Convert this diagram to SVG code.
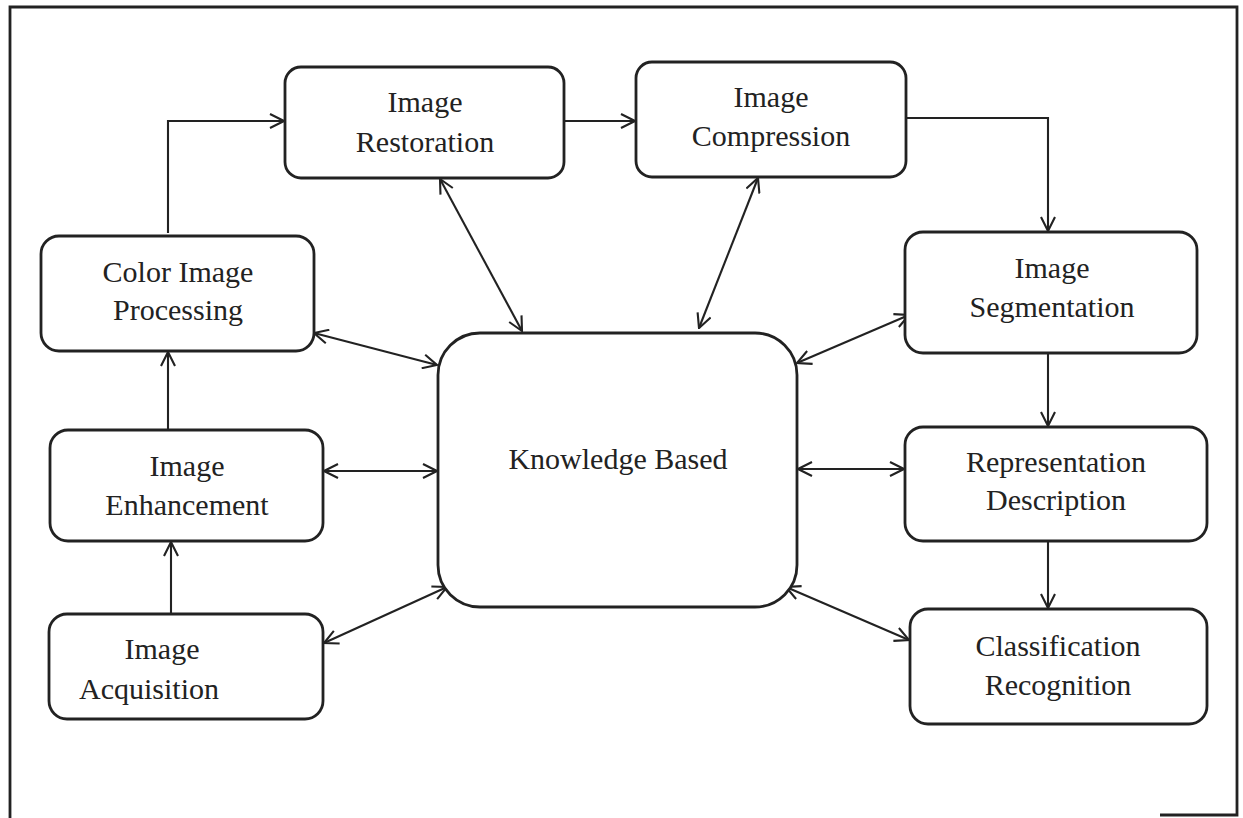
<svg xmlns="http://www.w3.org/2000/svg" width="1243" height="818" viewBox="0 0 1243 818">
<style>
.box{fill:#fff;stroke:#222;stroke-width:2.8}
.frame{fill:none;stroke:#222;stroke-width:2.8}
.c{fill:none;stroke:#222;stroke-width:2.1}
text{font-family:"Liberation Serif","Times New Roman",serif;font-size:30px;fill:#222;text-anchor:middle}
</style>
<defs>
<marker id="ah" markerWidth="16" markerHeight="16" refX="15" refY="8" orient="auto-start-reverse" markerUnits="userSpaceOnUse">
<path d="M1,1 L15,8 L1,15" fill="none" stroke="#222" stroke-width="2.1"/>
</marker>
</defs>
<rect width="1243" height="818" fill="#fff"/>
<g id="frame">
<path class="frame" d="M10,818 L10,7 L1237,7 L1237,815 L1160,815"/>
</g>
<g id="connectors">
<path class="c" d="M168,233 L168,121 L284,121" marker-end="url(#ah)"/>
<path class="c" d="M564,121 L635,121" marker-end="url(#ah)"/>
<path class="c" d="M906,118 L1048,118 L1048,231" marker-end="url(#ah)"/>
<path class="c" d="M1048,353 L1048,426" marker-end="url(#ah)"/>
<path class="c" d="M1048,541 L1048,608" marker-end="url(#ah)"/>
<path class="c" d="M168,430 L168,352" marker-end="url(#ah)"/>
<path class="c" d="M171,614 L171,542" marker-end="url(#ah)"/>
<path class="c" d="M314,333 L437,365" marker-start="url(#ah)" marker-end="url(#ah)"/>
<path class="c" d="M324,471 L437,471" marker-start="url(#ah)" marker-end="url(#ah)"/>
<path class="c" d="M324,643 L447,587" marker-start="url(#ah)" marker-end="url(#ah)"/>
<path class="c" d="M440,179 L522,331" marker-start="url(#ah)" marker-end="url(#ah)"/>
<path class="c" d="M758,178 L699,328" marker-start="url(#ah)" marker-end="url(#ah)"/>
<path class="c" d="M909,315 L797,363" marker-start="url(#ah)" marker-end="url(#ah)"/>
<path class="c" d="M798,469 L904,469" marker-start="url(#ah)" marker-end="url(#ah)"/>
<path class="c" d="M786,587 L909,640" marker-start="url(#ah)" marker-end="url(#ah)"/>
</g>
<g id="restoration">
<rect class="box" x="285" y="67" width="279" height="111" rx="16"/>
<text x="425" y="112">Image</text>
<text x="425" y="152">Restoration</text>
</g>
<g id="compression">
<rect class="box" x="636" y="62" width="270" height="115" rx="16"/>
<text x="771" y="107">Image</text>
<text x="771" y="146">Compression</text>
</g>
<g id="segmentation">
<rect class="box" x="905" y="232" width="292" height="121" rx="18"/>
<text x="1052" y="278">Image</text>
<text x="1052" y="317">Segmentation</text>
</g>
<g id="representation">
<rect class="box" x="905" y="427" width="302" height="114" rx="18"/>
<text x="1056" y="472">Representation</text>
<text x="1056" y="510">Description</text>
</g>
<g id="classification">
<rect class="box" x="910" y="609" width="297" height="115" rx="18"/>
<text x="1058" y="656">Classification</text>
<text x="1058" y="695">Recognition</text>
</g>
<g id="color">
<rect class="box" x="41" y="236" width="273" height="115" rx="18"/>
<text x="178" y="282">Color Image</text>
<text x="178" y="320">Processing</text>
</g>
<g id="enhancement">
<rect class="box" x="50" y="430" width="273" height="111" rx="18"/>
<text x="187" y="476">Image</text>
<text x="187" y="515">Enhancement</text>
</g>
<g id="acquisition">
<rect class="box" x="49" y="614" width="274" height="105" rx="18"/>
<text x="162" y="659">Image</text>
<text x="149" y="699">Acquisition</text>
</g>
<g id="knowledge">
<rect class="box" x="438" y="333" width="359" height="274" rx="42"/>
<text x="618" y="469">Knowledge Based</text>
</g>
</svg>
